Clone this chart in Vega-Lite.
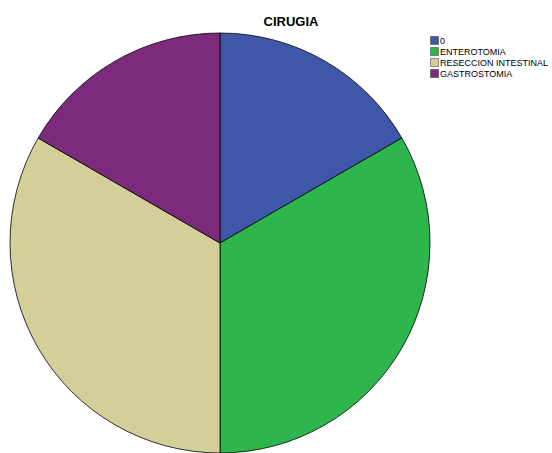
{
  "$schema": "https://vega.github.io/schema/vega-lite/v6.json",
  "width": 440,
  "height": 420,
  "autosize": {"type": "none"},
  "padding": {"top": 33, "left": 0, "right": 112, "bottom": 0},
  "background": "white",
  "config": {"view": {"stroke": null}, "font": "Liberation Sans"},
  "title": {"text": "CIRUGIA", "fontSize": 13, "fontWeight": "bold", "font": "Liberation Sans", "anchor": "middle", "dx": 71, "offset": 2, "color": "#000000"},
  "data": {"values": [
    {"cirugia": "0", "n": 1, "idx": 1},
    {"cirugia": "ENTEROTOMIA", "n": 2, "idx": 2},
    {"cirugia": "RESECCION INTESTINAL", "n": 2, "idx": 3},
    {"cirugia": "GASTROSTOMIA", "n": 1, "idx": 4}
  ]},
  "mark": {"type": "arc", "outerRadius": 210, "stroke": "#000000", "strokeWidth": 0.8},
  "encoding": {
    "theta": {"field": "n", "type": "quantitative", "stack": true},
    "order": {"field": "idx", "type": "quantitative"},
    "color": {
      "field": "cirugia", "type": "nominal",
      "scale": {"domain": ["0", "ENTEROTOMIA", "RESECCION INTESTINAL", "GASTROSTOMIA"], "range": ["#3F57A8", "#2EB54B", "#D4CE99", "#7B2A7C"]},
      "legend": {"title": null, "orient": "none", "legendX": 430, "legendY": 3, "symbolType": "square", "symbolSize": 64, "symbolStrokeColor": "#333333", "symbolStrokeWidth": 0.5, "labelFontSize": 9, "labelFont": "Liberation Sans", "labelColor": "#000000", "rowPadding": 0, "labelOffset": 1, "symbolOpacity": 1}
    }
  }
}
